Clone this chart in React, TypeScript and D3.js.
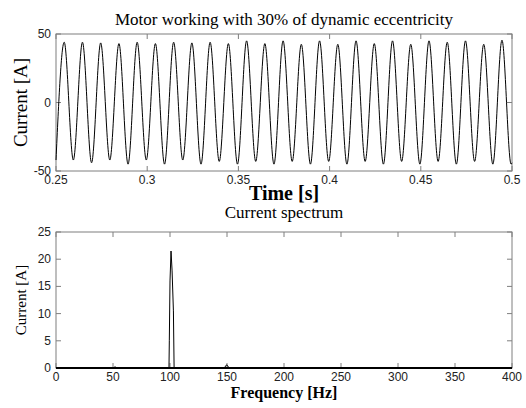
import React from "react";
import * as d3 from "d3";

// top panel: current waveform (extremes)
const waveTimes = [0.25, 0.2545, 0.2595, 0.2645, 0.2695, 0.2745, 0.2795, 0.2845, 0.2895, 0.2945, 0.2995,
  0.3045, 0.3095, 0.3145, 0.3195, 0.3245, 0.3295, 0.3345, 0.3395, 0.3445, 0.3495,
  0.3545, 0.3595, 0.3645, 0.3695, 0.3745, 0.3795, 0.3845, 0.3895, 0.3945, 0.3995,
  0.4045, 0.4095, 0.4145, 0.4195, 0.4245, 0.4295, 0.4345, 0.4395, 0.4445, 0.4495,
  0.4545, 0.4595, 0.4645, 0.4695, 0.4745, 0.4795, 0.4845, 0.4895, 0.4945, 0.4995, 0.5];
const waveCurrent = [-42, 44, -42, 44, -44, 43.5, -42, 43, -45, 44, -42,
  43, -45, 44, -42, 43.5, -45, 44, -43, 43, -45,
  45, -43, 43, -45, 45, -43, 42.5, -45, 45, -43,
  42.5, -45, 45, -43, 43, -45, 45, -43, 42.5, -45,
  45, -43, 44, -45, 45, -43, 42.5, -45, 45.5, -45, -44];
const timeTicks = [0.25, 0.3, 0.35, 0.4, 0.45, 0.5];
const timeTickLabels = ["0.25", "0.3", "0.35", "0.4", "0.45", "0.5"];
const currentTicks = [-50, 0, 50];

// bottom panel: spectrum
const specFreq = [0, 49.5, 51.8, 54, 99.1, 99.4, 100.0, 100.9, 101.8, 103.0, 103.6, 147.5, 149.7, 152, 400];
const specAmp = [0, 0, 0.2, 0, 0, 5, 16, 21.5, 18, 10.5, 0, 0, 0.6, 0, 0];
const freqTicks = [0, 50, 100, 150, 200, 250, 300, 350, 400];
const ampTicks = [0, 5, 10, 15, 20, 25];

const W = 526;
const H = 408;
const left = 56;
const right = 512;
const boxColor = "#7f7f7f";
const tickFont = "'Liberation Sans', Arial, sans-serif";
const serif = "'Liberation Serif', 'Times New Roman', serif";

function Panel({x, y, xTicks, xLabels, yTicks, title, xTitle, d, extra, fs}: any) {
  const [y0, y1] = y.range();
  const tl = 5;
  return (
    <g>
      <rect x={left} y={y1} width={right - left} height={y0 - y1} fill="none" stroke={boxColor} strokeWidth={1} />
      {xTicks.map((t: number, i: number) => (
        <g key={"x" + i}>
          <line x1={x(t)} x2={x(t)} y1={y0} y2={y0 - tl} stroke={boxColor} />
          <line x1={x(t)} x2={x(t)} y1={y1} y2={y1 + tl} stroke={boxColor} />
          <text x={x(t)} y={y0 + 13} textAnchor="middle" fontFamily={tickFont} fontSize={12} fill="#222">{xLabels[i]}</text>
        </g>
      ))}
      {yTicks.map((t: number, i: number) => (
        <g key={"y" + i}>
          <line x1={left} x2={left + tl} y1={y(t)} y2={y(t)} stroke={boxColor} />
          <line x1={right} x2={right - tl} y1={y(t)} y2={y(t)} stroke={boxColor} />
          <text x={51} y={y(t) + 4} textAnchor="end" fontFamily={tickFont} fontSize={12} fill="#222">{String(t)}</text>
        </g>
      ))}
      {extra}
      <path d={d} fill="none" stroke="#000" strokeWidth={1} />
      <text x={(left + right) / 2} y={y1 - fs.titleGap} textAnchor="middle" fontFamily={serif} fontSize={fs.title} fill="#000">{title}</text>
      <text x={(left + right) / 2} y={y0 + fs.xGap} textAnchor="middle" fontFamily={serif} fontSize={fs.x} fontWeight="bold" fill="#000">{xTitle}</text>
      <text transform={`translate(${fs.yPos},${(y0 + y1) / 2}) rotate(-90)`} textAnchor="middle" fontFamily={serif} fontSize={fs.y} fill="#000">Current [A]</text>
    </g>
  );
}

export default function App() {
  const xTime = d3.scaleLinear().domain([0.25, 0.5]).range([left, right]);
  const yCur = d3.scaleLinear().domain([-50, 50]).range([171, 34]);
  const xFreq = d3.scaleLinear().domain([0, 400]).range([left, right]);
  const yAmp = d3.scaleLinear().domain([0, 25]).range([368, 232]);

  const wave = d3.line<number>()
    .x((_, i) => xTime(waveTimes[i]))
    .y(v => yCur(v))
    .curve(d3.curveMonotoneX)(waveCurrent) || "";
  const spec = d3.line<number>()
    .x((_, i) => xFreq(specFreq[i]))
    .y(v => yAmp(v))(specAmp) || "";

  return (
    <svg width={W} height={H} style={{position: "absolute", left: 0, top: 0, background: "#fff"}}>
      <rect width={W} height={H} fill="#fff" />
      <Panel x={xTime} y={yCur} xTicks={timeTicks} xLabels={timeTickLabels} yTicks={currentTicks}
        title="Motor working with 30% of dynamic eccentricity" xTitle="Time [s]" d={wave}
        fs={{title: 17, titleGap: 9, x: 20, xGap: 29, y: 19, yPos: 27}} />
      <Panel x={xFreq} y={yAmp} xTicks={freqTicks} xLabels={freqTicks.map(String)} yTicks={ampTicks}
        title="Current spectrum" xTitle="Frequency [Hz]" d={spec}
        fs={{title: 17, titleGap: 14, x: 16, xGap: 30, y: 15, yPos: 26}}
        extra={<line x1={left} x2={right} y1={yAmp(0)} y2={yAmp(0)} stroke="#000" strokeWidth={2} />} />
    </svg>
  );
}
